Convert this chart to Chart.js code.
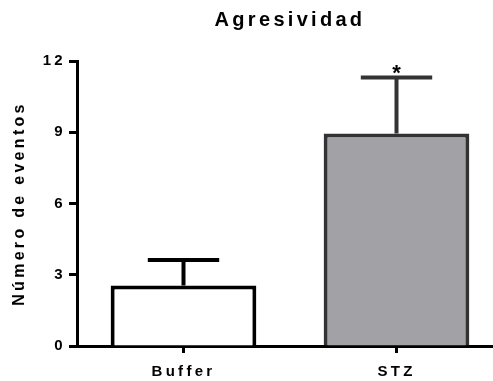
<!DOCTYPE html>
<html>
<head>
<meta charset="utf-8">
<script src="https://cdn.jsdelivr.net/npm/chart.js@4/dist/chart.umd.min.js"></script>
<style>
  html, body { margin: 0; padding: 0; background: #fff; overflow: hidden; }
  #wrap { width: 506px; height: 381px; position: relative; }
</style>
</head>
<body>
<div id="wrap"><canvas id="chart"></canvas></div>
<script>
// Group means, standard errors and significance marks
const groups = ['Buffer', 'STZ'];
const means = [2.55, 8.95];
const sem = [1.07, 2.36];
const significance = ['', '*'];
const yTicks = [0, 3, 6, 9, 12];

const FONT = '"Liberation Sans", Arial, Helvetica, sans-serif';
const edgeColors = ['#000000', '#333333'];
const fillColors = ['#ffffff', '#a2a1a6'];

Chart.defaults.font.family = FONT;
Chart.defaults.color = '#000';

// Wide tracking on every text item
const TRACK = '3.3px';
const tracking = {
  id: 'tracking',
  beforeLayout(chart) { chart.ctx.letterSpacing = TRACK; },
  beforeDraw(chart) { chart.ctx.letterSpacing = TRACK; }
};

// Upper error bars with caps, plus the significance mark
const errorBars = {
  id: 'errorBars',
  afterDatasetsDraw(chart) {
    const ctx = chart.ctx;
    const y = chart.scales.y;
    const meta = chart.getDatasetMeta(0);
    ctx.save();
    meta.data.forEach((bar, i) => {
      const top = y.getPixelForValue(means[i] + sem[i]);
      const half = bar.width * 0.245;
      ctx.strokeStyle = edgeColors[i];
      ctx.lineWidth = 4;
      ctx.lineCap = 'butt';
      ctx.beginPath();
      ctx.moveTo(bar.x, bar.y);
      ctx.lineTo(bar.x, top);
      ctx.moveTo(bar.x - half, top);
      ctx.lineTo(bar.x + half, top);
      ctx.stroke();
      if (significance[i]) {
        ctx.letterSpacing = '0px';
        ctx.fillStyle = '#000';
        ctx.font = 'bold 22px ' + FONT;
        ctx.textAlign = 'center';
        ctx.textBaseline = 'alphabetic';
        ctx.fillText(significance[i], bar.x, top + 3);
      }
    });
    ctx.restore();
  }
};

new Chart(document.getElementById('chart'), {
  type: 'bar',
  data: {
    labels: groups,
    datasets: [{
      data: means,
      backgroundColor: fillColors,
      borderColor: edgeColors,
      borderWidth: 4,
      borderSkipped: 'start',
      barPercentage: 0.684,
      categoryPercentage: 1
    }]
  },
  options: {
    responsive: true,
    maintainAspectRatio: false,
    animation: false,
    layout: { padding: { left: 0, right: 3, top: 0, bottom: 0 } },
    plugins: {
      legend: { display: false },
      tooltip: { enabled: false },
      title: { display: false }
    },
    scales: {
      titleAxis: {
        type: 'category',
        position: 'top',
        grid: { display: false },
        border: { display: false },
        ticks: { display: false },
        title: {
          display: true,
          text: 'Agresividad',
          color: '#000',
          font: { size: 20, weight: 'bold' },
          padding: { top: 8, bottom: 0 }
        },
        afterFit(s) { s.height = 61; }
      },
      x: {
        type: 'category',
        position: 'bottom',
        offset: true,
        grid: {
          offset: false,
          drawOnChartArea: false,
          drawTicks: true,
          tickLength: 7,
          tickWidth: 3,
          tickColor: '#000'
        },
        border: { display: true, width: 3, color: '#000' },
        ticks: {
          color: '#000',
          padding: 10,
          maxRotation: 0,
          font: { size: 15, weight: 'bold' }
        },
        afterFit(s) { s.height = 35; }
      },
      y: {
        min: 0,
        max: 12,
        afterBuildTicks(s) { s.ticks = yTicks.map(v => ({ value: v })); },
        grid: {
          drawOnChartArea: false,
          drawTicks: true,
          tickLength: 8,
          tickWidth: 3,
          tickColor: '#000'
        },
        border: { display: true, width: 3, color: '#000' },
        ticks: {
          color: '#000',
          padding: 3,
          font: { size: 15, weight: 'bold' }
        },
        title: {
          display: true,
          text: 'Número de eventos',
          color: '#000',
          font: { size: 16, weight: 'bold' },
          padding: { top: 10, bottom: 0 }
        },
        afterFit(s) { s.width = 77; }
      }
    }
  },
  plugins: [tracking, errorBars]
});
</script>
</body>
</html>
